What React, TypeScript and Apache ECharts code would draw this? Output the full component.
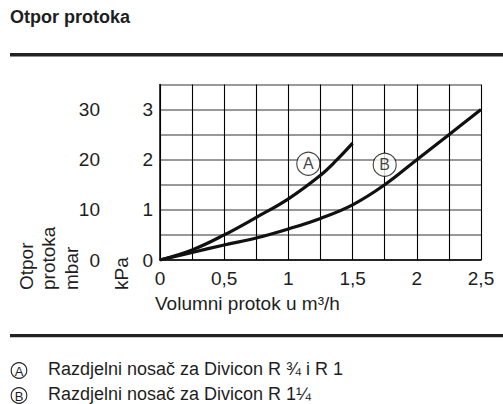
import React, { useEffect, useRef } from "react";
import * as echarts from "echarts";

const flowX: number[] = [0, 0.25, 0.5, 0.75, 1, 1.25, 1.5, 1.75, 2, 2.25, 2.5];
const flowXA: number[] = [0, 0.25, 0.5, 0.75, 1, 1.25, 1.375, 1.5];
const seriesA: number[] = [0, 0.2, 0.5, 0.85, 1.22, 1.69, 1.99, 2.33];
const seriesB: number[] = [0, 0.15, 0.3, 0.44, 0.62, 0.83, 1.1, 1.5, 2.0, 2.5, 3.0];
const markerA: number[] = [1.155, 1.92];
const markerB: number[] = [1.75, 1.9];
const title = "Otpor protoka";
const xName = "Volumni protok u m³/h";
const yNameLines: string[] = ["Otpor", "protoka", "mbar"];
const yName2 = "kPa";
const legendA = "Razdjelni nosač za Divicon R ¾ i R 1";
const legendB = "Razdjelni nosač za Divicon R 1¼";

const FONT = "'Liberation Sans', Arial, sans-serif";
const TXT = "#1e1e1e";

export default function App() {
  const ref = useRef<HTMLDivElement>(null);
  useEffect(() => {
    if (!ref.current) return;
    const chart = echarts.init(ref.current, null, { renderer: "svg" });
    const dataA = seriesA.map((v, i) => [flowXA[i], v]);
    const dataB = seriesB.map((v, i) => [flowX[i], v]);
    const yNameX = [26, 48, 71];
    chart.setOption({
      animation: false,
      backgroundColor: "#fff",
      textStyle: { fontFamily: FONT },
      grid: { left: 160, right: 22, top: 84.5, bottom: 144, containLabel: false },
      xAxis: {
        type: "value",
        min: 0,
        max: 2.5,
        interval: 0.25,
        axisLine: { show: true, onZero: false, lineStyle: { color: "#000", width: 1.5 } },
        axisTick: { show: false },
        axisLabel: {
          margin: 9,
          fontSize: 19,
          color: TXT,
          fontFamily: FONT,
          formatter: (v: number) =>
            Math.abs(v * 2 - Math.round(v * 2)) < 1e-9 ? String(v).replace(".", ",") : "",
        },
        splitLine: { show: true, lineStyle: { color: "#000", width: 1.1 } },
      },
      yAxis: [
        {
          type: "value",
          min: 0,
          max: 3.5,
          interval: 0.5,
          position: "left",
          axisLine: { show: true, lineStyle: { color: "#000", width: 1.5 } },
          axisTick: { show: false },
          axisLabel: {
            margin: 7,
            fontSize: 19,
            color: TXT,
            fontFamily: FONT,
            formatter: (v: number) => (Math.abs(v - Math.round(v)) < 1e-9 ? String(v) : ""),
          },
          splitLine: { show: true, lineStyle: { color: "#777", width: 1.6 } },
        },
        {
          type: "value",
          min: 0,
          max: 35,
          interval: 5,
          position: "left",
          offset: 53,
          axisLine: { show: false },
          axisTick: { show: false },
          splitLine: { show: false },
          axisLabel: {
            margin: 7,
            fontSize: 19,
            color: TXT,
            fontFamily: FONT,
            formatter: (v: number) => (Math.round(v) % 10 === 0 ? String(v) : ""),
          },
        },
      ],
      series: [
        {
          type: "line",
          data: dataA,
          showSymbol: false,
          smooth: 0.4,
          lineStyle: { color: "#111", width: 3.2 },
          z: 3,
        },
        {
          type: "line",
          data: dataB,
          showSymbol: false,
          smooth: 0.4,
          lineStyle: { color: "#111", width: 3.2 },
          z: 3,
        },
        {
          type: "scatter",
          data: [
            { value: markerA, name: "A" },
            { value: markerB, name: "B" },
          ],
          symbol: "circle",
          symbolSize: 23,
          itemStyle: { color: "#fff", borderColor: "#111", borderWidth: 1.1 },
          label: {
            show: true,
            position: "inside",
            formatter: (p: any) => p.name,
            fontSize: 16,
            color: "#111",
            fontFamily: FONT,
          },
          z: 5,
        },
      ],
      graphic: [
        {
          type: "text",
          left: 10,
          top: 8,
          style: { text: title, font: `bold 18px ${FONT}`, fill: TXT },
        },
        { type: "rect", shape: { x: 10, y: 53, width: 493, height: 3.5 }, style: { fill: "#222" } },
        { type: "rect", shape: { x: 10, y: 334, width: 493, height: 3.3 }, style: { fill: "#222" } },
        ...yNameLines.map((t, i) => ({
          type: "text",
          x: yNameX[i],
          y: 290,
          rotation: Math.PI / 2,
          style: {
            text: t,
            font: `19px ${FONT}`,
            fill: TXT,
            align: "left",
            verticalAlign: "middle",
          },
        })),
        {
          type: "text",
          x: 121,
          y: 290,
          rotation: Math.PI / 2,
          style: { text: yName2, font: `19px ${FONT}`, fill: TXT, align: "left", verticalAlign: "middle" },
        },
        {
          type: "text",
          x: 155,
          y: 303,
          style: { text: xName, font: `19px ${FONT}`, fill: TXT, align: "left", verticalAlign: "middle" },
        },
        { type: "circle", shape: { cx: 19, cy: 370.5, r: 7.8 }, style: { fill: "#fff", stroke: "#222", lineWidth: 1.1 } },
        {
          type: "text",
          x: 19,
          y: 371,
          style: { text: "A", font: `13px ${FONT}`, fill: TXT, align: "center", verticalAlign: "middle" },
        },
        { type: "circle", shape: { cx: 19, cy: 395.5, r: 7.8 }, style: { fill: "#fff", stroke: "#222", lineWidth: 1.1 } },
        {
          type: "text",
          x: 19,
          y: 396,
          style: { text: "B", font: `13px ${FONT}`, fill: TXT, align: "center", verticalAlign: "middle" },
        },
        {
          type: "text",
          x: 48,
          y: 369,
          style: { text: legendA, font: `18px ${FONT}`, fill: TXT, align: "left", verticalAlign: "middle" },
        },
        {
          type: "text",
          x: 48,
          y: 393.5,
          style: { text: legendB, font: `18px ${FONT}`, fill: TXT, align: "left", verticalAlign: "middle" },
        },
      ],
    });
    return () => chart.dispose();
  }, []);
  return (
    <div
      ref={ref}
      style={{ position: "absolute", left: 0, top: 0, width: 503, height: 404, background: "#fff" }}
    />
  );
}
